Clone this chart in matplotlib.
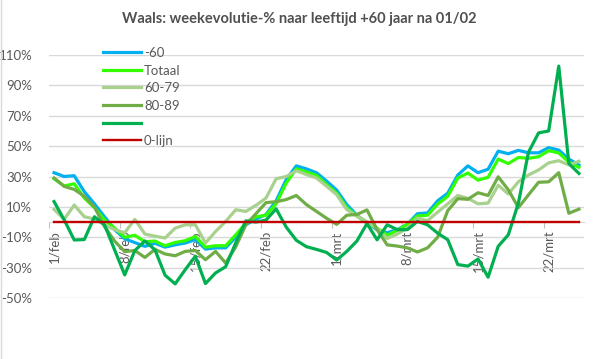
import numpy as np
import matplotlib
matplotlib.use("Agg")
import matplotlib.pyplot as plt
from matplotlib.lines import Line2D

plt.rcParams['font.family'] = ['Lato', 'DejaVu Sans']

# categorieen: 1/feb t/m 25/mrt
dagen = [f"{d}/feb" for d in range(1, 29)] + [f"{d}/mrt" for d in range(1, 26)]
tick_pos = [0, 7, 14, 21, 28, 35, 42, 49]

min60 = [32.5, 30, 30.5, 20, 12, 3.5, -5, -11, -13.5, -16,
         -14, -16.5, -15, -13.8, -11.5, -17.8, -17, -17, -10, -1.8,
         2, 5, 14, 28, 37, 35, 32.5, 27, 21, 11.5,
         4.5, -0.5, -5, -7, -5, -1.5, 5.5, 6, 14, 19,
         31, 37, 32.5, 34.8, 46.7, 45, 47.2, 45.6, 45.6, 49,
         47.4, 41.5, 37.5]
totaal = [28.5, 23.8, 25.2, 15.8, 9.5, 1.5, -4, -10, -8.7, -13,
          -12.5, -15.6, -13.4, -12.3, -9.5, -16.5, -15.6, -15.6, -8.4, -0.7,
          3.5, 4.5, 12, 25.7, 35, 33, 30.7, 24.7, 19, 9.5,
          4, -0.5, -4, -8.7, -5.5, -1.5, 4, 4.5, 11.8, 17,
          29, 32.3, 27.6, 29.5, 41.5, 38.5, 42.5, 42, 43, 47,
          45.5, 39.5, 36]
l60_79 = [8.4, 1.8, 11.2, 3.5, 2, -1.8, -5, -7, 1.8, -7.9,
          -9.3, -10.5, -4, -1.8, -1.8, -13.8, -6.2, 0.4, 8.1, 7,
          11, 15.8, 28.5, 30, 33.8, 31.3, 29, 23.6, 18, 8.2,
          4, 0.3, -4.2, -10.8, -7.9, -4, 2.6, 1, 6.5, 12,
          17.5, 15.6, 12, 12.5, 24.3, 18.5, 26.5, 31, 34.3, 39,
          40.4, 37.6, 40]
l80_89 = [29, 23.5, 21.5, 17, 10, -3, -12.5, -19.5, -18.7, -23.3,
          -18, -21, -22.2, -19.3, -18.7, -24.8, -19.3, -27, -16.3, -1.8,
          5.5, 12.8, 13.4, 14.8, 17.5, 11.5, 7, 2.5, -1.5, 4.5,
          5, 8, -5, -15, -15.8, -17, -19.7, -17, -10, 7.5,
          15.4, 15, 19.3, 17.5, 29.8, 21.3, 9.5, 17.9, 26.2, 26.5,
          32.5, 5.8, 8.5]
l90 = [13.5, 1.5, -11.8, -11.5, 3.5, -1.8, -18.3, -34.8, -18.8, -12.4,
       -18.3, -35, -40.7, -31.3, -22.5, -40.5, -33.5, -29.4, -13.7, 0.8,
       0, 1.3, 8.7, -3.3, -12, -16.2, -18, -20, -25, -19.3,
       -12.5, -1, -11.7, -1.8, -5, -5, 0.4, -1.8, -7.3, -11.6,
       -28, -29, -24.3, -36.3, -16, -8.4, 12.5, 46, 58.7, 60,
       102.7, 38.5, 32]
nul_lijn = [0] * len(dagen)

y_ticks = [-50, -30, -10, 10, 30, 50, 70, 90, 110]

grijs = '#595959'

fig = plt.figure(figsize=(5.99, 3.59), dpi=100)
ax = fig.add_axes([49 / 599, 1 - 298 / 359, 535 / 599, 243 / 359])

x = np.arange(len(dagen))
lw = 2.3
ax.plot(x, min60, color='#00B0F0', lw=lw, label='-60', zorder=3)
ax.plot(x, totaal, color='#33FF00', lw=lw, label='Totaal', zorder=3)
ax.plot(x, l60_79, color='#A9D18E', lw=lw, label='60-79', zorder=3)
ax.plot(x, l80_89, color='#70AD47', lw=lw, label='80-89', zorder=3)
ax.plot(x, l90, color='#00B050', lw=lw, label=' ', zorder=3)
ax.plot(x, nul_lijn, color='#C00000', lw=1.7, label='0-lijn', zorder=3)

ax.set_xlim(-0.5, len(dagen) - 0.5)
ax.set_ylim(-50, 110)

ax.set_yticks(y_ticks)
ax.set_yticklabels([f"{v}%" for v in y_ticks], fontsize=9.5, color=grijs)
ax.tick_params(axis='y', length=0, pad=12)
ax.yaxis.grid(True, color='#D9D9D9', lw=1)
ax.set_axisbelow(True)

for s in ['left', 'right', 'top']:
    ax.spines[s].set_visible(False)
ax.spines['bottom'].set_position(('data', 0))
ax.spines['bottom'].set_color('#D9D9D9')

# streepjes tussen de categorieen, labels op de categorie
ax.set_xticks(np.arange(-0.5, len(dagen), 7))
ax.set_xticklabels([])
ax.tick_params(axis='x', which='major', length=4, color='#BFBFBF', direction='out')
ax.set_xticks(tick_pos, minor=True)
ax.set_xticklabels([dagen[i] for i in tick_pos], minor=True, rotation=90,
                   fontsize=9.5, color=grijs)
ax.tick_params(axis='x', which='minor', length=0, pad=6)

fig.suptitle("Waals: weekevolutie-% naar leeftijd +60 jaar na 01/02",
             x=0.5, y=1 - 12 / 359, va='top', fontsize=10.5,
             fontweight='bold', color='#505050')

handles, labels = ax.get_legend_handles_labels()
ax.legend(handles, labels, loc='upper left', bbox_to_anchor=(103 / 599, 1 - 47 / 359),
          bbox_transform=fig.transFigure, frameon=False, fontsize=9.5,
          labelcolor=grijs, handlelength=2.9, handletextpad=0.2,
          labelspacing=0.42, borderpad=0, borderaxespad=0)

fig.add_artist(Line2D([0.5 / 599, 0.5 / 599], [0, 1], transform=fig.transFigure,
                      color='#D9D9D9', lw=1))

fig.savefig('out.png', dpi=100)
